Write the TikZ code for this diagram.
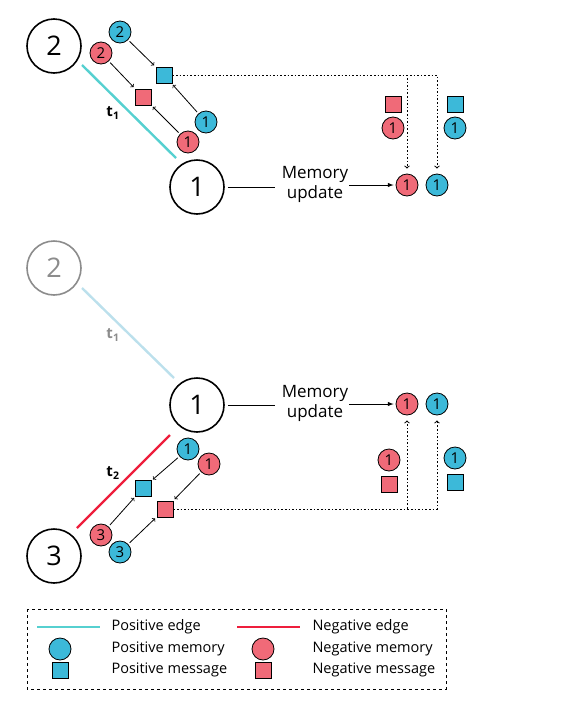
\documentclass[tikz,border=0pt]{standalone}
\usepackage{fontspec}
\setmainfont{Open Sans}
\usepackage{xcolor}
\usepackage{tikz}
\usetikzlibrary{positioning}

\definecolor{posfill}{HTML}{3CB9D9}
\definecolor{posedge}{HTML}{56D0D0}
\definecolor{fadeedge}{HTML}{BCE0EC}
\definecolor{negfill}{HTML}{F06A78}
\definecolor{negedge}{HTML}{EE1E3C}

\tikzset{
  bignode/.style={circle, draw, line width=1.6pt, minimum size=54pt, inner sep=0pt,
    font=\fontsize{27}{27}\selectfont},
  pmem/.style={circle, draw, line width=0.8pt, fill=posfill, minimum size=22pt, inner sep=0pt,
    font=\fontsize{15}{15}\selectfont},
  nmem/.style={pmem, fill=negfill},
  pmsg/.style={rectangle, draw, line width=0.8pt, fill=posfill, minimum size=16pt, inner sep=0pt},
  nmsg/.style={pmsg, fill=negfill},
  msgarrow/.style={->, line width=0.8pt, shorten <=2pt, shorten >=2pt},
  dotarrow/.style={->, line width=1pt, dash pattern=on 1.6pt off 2pt, shorten >=5pt},
  tlabel/.style={font=\fontsize{15}{15}\selectfont\bfseries},
  updtext/.style={align=center, inner sep=1pt, font=\fontsize{17}{20}\selectfont},
  legtext/.style={anchor=west, font=\fontsize{14.5}{15}\selectfont}
}

\begin{document}
\begin{tikzpicture}[x=1pt, y=-1pt]
\useasboundingbox (0,0) rectangle (567,702);

% ---- first event: 2 -- 1 at t1
\node[bignode] (n2a) at (54,46) {2};
\node[bignode] (n1a) at (197,187) {1};
\draw[posedge, line width=2.4pt] (82,65) -- (176,158);
\node[tlabel] (t1a) at (113,113) {t\textsubscript{1}};

\node[pmsg] (sqPa) at (164,75) {};
\node[nmsg] (sqNa) at (143,97) {};
\node[pmem] (m2Pa) at (120,32) {2};
\node[nmem] (m2Na) at (101,53) {2};
\node[pmem] (m1Pa) at (206,122) {1};
\node[nmem] (m1Na) at (188,142) {1};
\draw[msgarrow] (m2Pa) -- (sqPa);
\draw[msgarrow] (m2Na) -- (sqNa);
\draw[msgarrow] (m1Pa) -- (sqPa);
\draw[msgarrow] (m1Na) -- (sqNa);

\node[nmsg] (sNa) at (393,104) {};
\node[nmem] (cNa) at (393,128) {1};
\node[pmsg] (sPa) at (455,104) {};
\node[pmem] (cPa) at (455,128) {1};

\node[updtext] (upda) at (315,184) {Memory\\update};
\node[nmem] (uNa) at (407,185) {1};
\node[pmem] (uPa) at (437,185) {1};
\draw[line width=1pt, shorten >=6pt] (n1a.east) ++(3,0) -- (upda.west |- n1a.east);
\draw[-latex, line width=1pt] (upda.east |- uNa.west) -- ([xshift=-2pt]uNa.west);
\draw[dotarrow] (sqPa.east) -| (uPa.north);
\draw[dotarrow] (sqPa.east) -| (uNa.north);

% ---- second event: 1 -- 3 at t2
\node[bignode, draw=black!45, text=black!45] (n2b) at (54,268) {2};
\node[bignode] (n1b) at (197,405) {1};
\draw[fadeedge, line width=2.4pt] (82,288) -- (174,378);
\node[tlabel, text=black!45] (t1b) at (113,335) {t\textsubscript{1}};
\node[bignode] (n3b) at (54,556) {3};
\draw[negedge, line width=2.4pt] (170,435) -- (77,528);
\node[tlabel] (t2b) at (113,473) {t\textsubscript{2}};

\node[pmsg] (sqPb) at (143,488) {};
\node[nmsg] (sqNb) at (165,509) {};
\node[pmem] (m1Pb) at (188,449) {1};
\node[nmem] (m1Nb) at (209,464) {1};
\node[nmem] (m3Nb) at (101,535) {3};
\node[pmem] (m3Pb) at (120,552) {3};
\draw[msgarrow] (m1Pb) -- (sqPb);
\draw[msgarrow] (m1Nb) -- (sqNb);
\draw[msgarrow] (m3Nb) -- (sqPb);
\draw[msgarrow] (m3Pb) -- (sqNb);

\node[nmem] (cNb) at (389,460) {1};
\node[nmsg] (sNb) at (389,484) {};
\node[pmem] (cPb) at (455,458) {1};
\node[pmsg] (sPb) at (455,482) {};

\node[updtext] (updb) at (315,403) {Memory\\update};
\node[nmem] (uNb) at (407,404) {1};
\node[pmem] (uPb) at (437,404) {1};
\draw[line width=1pt, shorten >=6pt] (n1b.east) ++(3,0) -- (updb.west |- n1b.east);
\draw[-latex, line width=1pt] (updb.east |- uNb.west) -- ([xshift=-2pt]uNb.west);
\draw[dotarrow] (sqNb.east) -| (uPb.south);
\draw[dotarrow] (sqNb.east) -| (uNb.south);

% ---- legend
\draw[dashed, line width=0.9pt] (27,609) rectangle (446,689);
\coordinate (lpa) at (37,627);
\coordinate (lpb) at (100,627);
\draw[posedge, line width=2.4pt] (lpa) -- (lpb);
\node[legtext] (lpe) at (108,627) {Positive edge};
\node[pmem] (lpm) at (60,649) {};
\node[legtext] (lpmt) at (108,649) {Positive memory};
\node[pmsg] (lps) at (60,670) {};
\node[legtext] (lpst) at (108,670) {Positive message};
\coordinate (lna) at (237,627);
\coordinate (lnb) at (300,627);
\draw[negedge, line width=2.4pt] (lna) -- (lnb);
\node[legtext] (lne) at (309,627) {Negative edge};
\node[nmem] (lnm) at (263,649) {};
\node[legtext] (lnmt) at (309,649) {Negative memory};
\node[nmsg] (lns) at (263,670) {};
\node[legtext] (lnst) at (309,670) {Negative message};
\end{tikzpicture}
\end{document}
